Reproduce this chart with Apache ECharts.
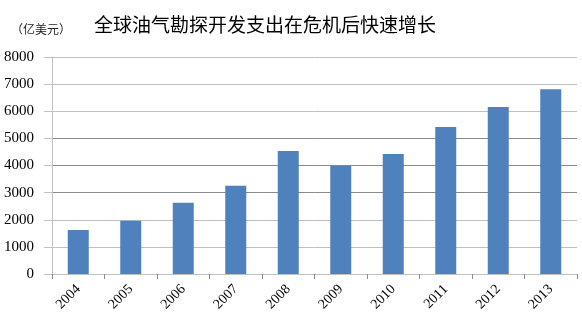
<!DOCTYPE html>
<html>
<head>
<meta charset="utf-8">
<script src="https://cdn.jsdelivr.net/npm/echarts@6/dist/echarts.min.js"></script>
<style>
  html, body { margin: 0; padding: 0; background: #fff; }
  #chart { width: 582px; height: 322px; }
</style>
</head>
<body>
<div id="chart"></div>
<script>
// Global oil & gas exploration and development spending (100 million USD)
const years = ['2004', '2005', '2006', '2007', '2008', '2009', '2010', '2011', '2012', '2013'];
const spending = [1620, 1960, 2630, 3250, 4530, 3990, 4420, 5420, 6160, 6810];

const titleText = '全球油气勘探开发支出在危机后快速增长';
const unitText = '（亿美元）';

const yMin = 0;
const yMax = 8000;
const yStep = 1000;

const light = '#c0c0c0';
const dark = '#8a8a8a';

const chart = echarts.init(document.getElementById('chart'), null, { renderer: 'canvas' });

chart.setOption({
  animation: false,
  backgroundColor: '#ffffff',
  title: [
    {
      text: titleText,
      left: 89,
      top: 10,
      textStyle: {
        fontFamily: '"Noto Sans CJK SC", sans-serif',
        fontSize: 19,
        fontWeight: 'normal',
        color: '#000'
      }
    },
    {
      text: unitText,
      left: 6,
      top: 18,
      textStyle: {
        fontFamily: '"Noto Sans CJK SC", sans-serif',
        fontSize: 12,
        fontWeight: 'normal',
        color: '#222'
      }
    }
  ],
  grid: {
    left: 52,
    right: 5,
    top: 57,
    bottom: 48,
    containLabel: false
  },
  xAxis: {
    type: 'category',
    data: years,
    axisLine: { show: true, lineStyle: { color: light, width: 1 } },
    axisTick: { show: true, length: 5, lineStyle: { color: dark } },
    axisLabel: {
      rotate: 45,
      margin: 13,
      fontFamily: '"Liberation Serif", "Times New Roman", serif',
      fontSize: 14,
      color: '#000'
    },
    splitLine: { show: false }
  },
  yAxis: {
    type: 'value',
    min: yMin,
    max: yMax,
    interval: yStep,
    axisLine: { show: true, lineStyle: { color: light, width: 1 } },
    axisTick: { show: true, length: 8, lineStyle: { color: light } },
    axisLabel: {
      margin: 18,
      formatter: (v) => String(v),
      fontFamily: '"Liberation Serif", "Times New Roman", serif',
      fontSize: 15,
      color: '#000'
    },
    splitLine: {
      show: true,
      lineStyle: {
        color: [light, light, light, dark, dark, dark, light, light, light],
        width: 1
      }
    }
  },
  series: [
    {
      type: 'bar',
      data: spending,
      barWidth: '40%',
      itemStyle: { color: '#4f81bd' }
    }
  ]
});
</script>
</body>
</html>
